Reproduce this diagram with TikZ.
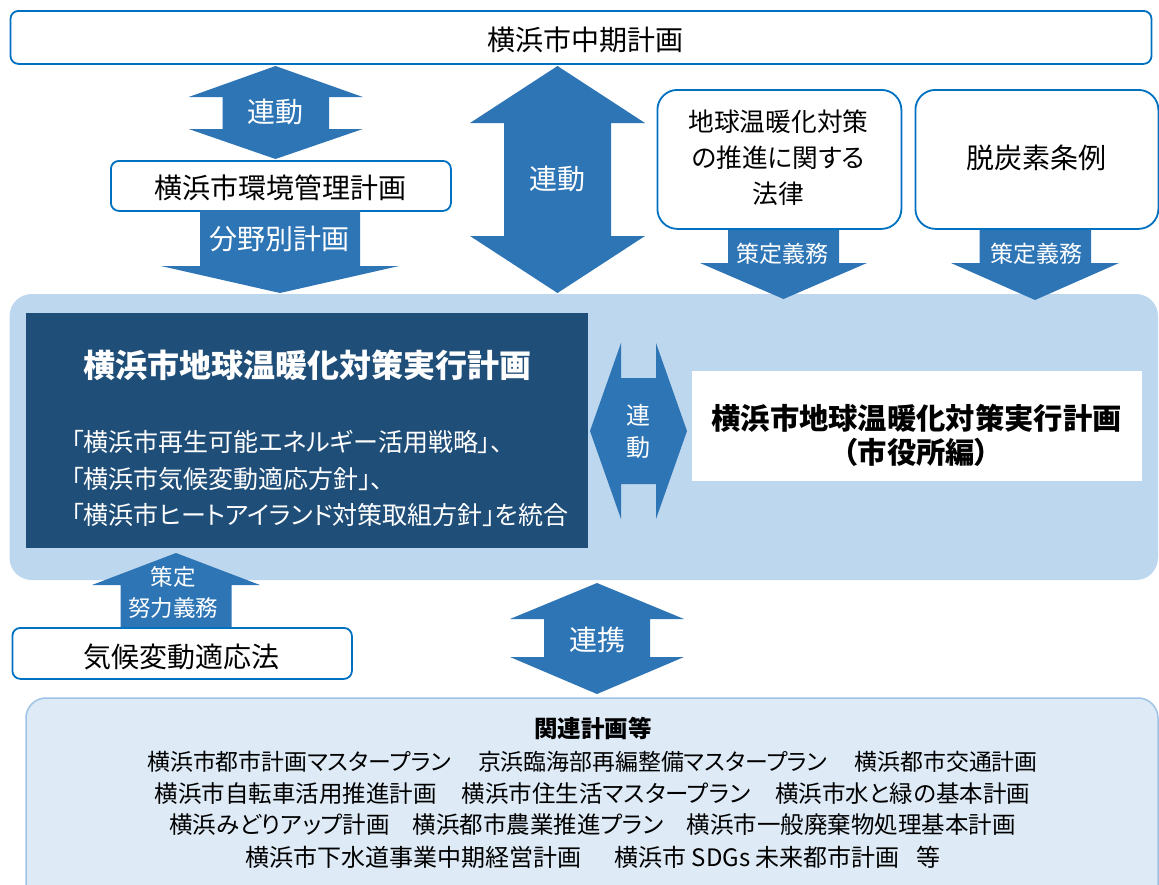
\documentclass[tikz,border=0pt]{standalone}
\usepackage{fontspec}
\setmainfont{Noto Sans CJK JP}[RawFeature=+palt]
\usepackage{xcolor}
\usetikzlibrary{positioning}

\definecolor{arrowblue}{HTML}{2E75B6}
\definecolor{lineblue}{HTML}{0070C0}
\definecolor{areablue}{HTML}{BDD7EE}
\definecolor{darkblue}{HTML}{1F4E79}
\definecolor{paleblue}{HTML}{DEEBF7}
\definecolor{paleline}{HTML}{9DC3E6}

\tikzset{
  planbox/.style={draw=lineblue, line width=1.8pt, fill=white, rounded corners=8pt, inner sep=0pt},
  lawbox/.style={planbox, rounded corners=20pt},
  blockarrow/.style={fill=arrowblue},
  arrowlabel/.style={text=white, inner sep=0pt, align=center},
  bigtext/.style={font=\fontsize{28}{32}\selectfont},
  midtext/.style={font=\fontsize{25.7}{36}\selectfont},
  smalltext/.style={font=\fontsize{23}{33}\selectfont},
  listline/.style={inner sep=0pt, font=\fontsize{#1}{#1}\selectfont},
}

\begin{document}
\begin{tikzpicture}[x=1pt,y=-1pt]
    \useasboundingbox (0,0) rectangle (1159,884);
    \clip (0,0) rectangle (1159,884);

    % Top plan
    \node[planbox, minimum width=1141, minimum height=53, anchor=north west] (chuki) at (9.6,10) {};
    \node[bigtext, inner sep=0pt] (chukitxt) at (585,40) {横浜市中期計画};

    % Environment plan
    \node[planbox, minimum width=340, minimum height=50, anchor=north west] (kankyo) at (110,160) {};
    \node[bigtext, inner sep=0pt] (kankyotxt) at (280,188) {横浜市環境管理計画};

    % Laws
    \node[lawbox, minimum width=244, minimum height=139, anchor=north west] (law) at (656.5,89) {};
    \node[midtext, inner sep=0pt, align=center] (lawtxt) at (778.5,157.5) {地球温暖化対策\\の推進に関する\\法律};
    \node[lawbox, minimum width=243, minimum height=139, anchor=north west] (jorei) at (914.5,89) {};
    \node[bigtext, inner sep=0pt] (joreitxt) at (1036,158) {脱炭素条例};

    % Main area
    \fill[areablue, rounded corners=22pt] (9.6,294) rectangle (1158,580);
    \node[fill=darkblue, minimum width=562, minimum height=235, anchor=north west, inner sep=0pt] (jikko) at (26,313) {};
    \node[text=white, font=\bfseries\fontsize{32}{36}\selectfont, inner sep=0pt] (jikkotitle) at (307,365) {横浜市地球温暖化対策実行計画};
    \node[text=white, font=\fontsize{25}{36.5}\selectfont, inner sep=0pt, align=left, anchor=west] (jikkobody) at (71,478.5)
        {「横浜市再生可能エネルギー活用戦略」、\\「横浜市気候変動適応方針」、\\「横浜市ヒートアイランド対策取組方針」を統合};
    \node[fill=white, minimum width=450, minimum height=110, anchor=north west, inner sep=0pt] (shiyakusho) at (692,371) {};
    \node[font=\bfseries\fontsize{29.3}{34}\selectfont, inner sep=0pt, align=center] (shiyakushotxt) at (916.5,435)
        {横浜市地球温暖化対策実行計画\\（市役所編）};

    % Climate adaptation law
    \node[planbox, minimum width=339.5, minimum height=51, anchor=north west] (tekio) at (11.5,627) {};
    \node[bigtext, inner sep=0pt] (tekiotxt) at (181.5,657) {気候変動適応法};

    % Related plans
    \fill[paleblue, draw=paleline, line width=1.5pt, rounded corners=20pt] (26,698) rectangle (1158,910);
    \node[font=\bfseries\fontsize{23.5}{28}\selectfont, inner sep=0pt] (kanren) at (593,728) {関連計画等};
    \node[listline=22.9] (list1) at (592.5,762)
        {横浜市都市計画マスタープラン\hspace{27pt}京浜臨海部再編整備マスタープラン\hspace{27pt}横浜都市交通計画};
    \node[listline=23.5] (list2) at (592.5,793.5)
        {横浜市自転車活用推進計画\hspace{25pt}横浜市住生活マスタープラン\hspace{25pt}横浜市水と緑の基本計画};
    \node[listline=23.5] (list3) at (592.5,825)
        {横浜みどりアップ計画\hspace{23pt}横浜都市農業推進プラン\hspace{23pt}横浜市一般廃棄物処理基本計画};
    \node[listline=24] (list4) at (593,857)
        {横浜市下水道事業中期経営計画\hspace{33pt}横浜市 SDGs 未来都市計画\hspace{17pt}等};

    % Block arrows
    \fill[blockarrow] (275.5,66) -- (362.8,97) -- (329,97) -- (329,129) -- (362.8,129) -- (275.5,159)
        -- (188.7,129) -- (222.7,129) -- (222.7,97) -- (188.7,97) -- cycle;
    \node[arrowlabel, bigtext] (rendo1) at (275.5,112) {連動};

    \fill[blockarrow] (200,210) -- (360,210) -- (360,266) -- (399,266) -- (280,293) -- (161,266) -- (200,266) -- cycle;
    \node[arrowlabel, bigtext] (bunya) at (279,238.5) {分野別計画};

    \fill[blockarrow] (557.5,66) -- (645,123) -- (611,123) -- (611,236) -- (645,236) -- (557.5,293)
        -- (470,236) -- (504,236) -- (504,123) -- (470,123) -- cycle;
    \node[arrowlabel, bigtext] (rendo2) at (557,178.5) {連動};

    \fill[blockarrow] (728,230) -- (839,230) -- (839,263) -- (867,263) -- (783.5,299) -- (700,263) -- (728,263) -- cycle;
    \node[arrowlabel, smalltext] (gimu1) at (782,254) {策定義務};
    \fill[blockarrow] (979.5,230) -- (1091,230) -- (1091,263) -- (1119,263) -- (1035,300) -- (951,263) -- (979.5,263) -- cycle;
    \node[arrowlabel, smalltext] (gimu2) at (1036,254) {策定義務};

    \fill[blockarrow] (621,343) -- (621,378) -- (656,378) -- (656,343) -- (687,431) -- (656,519)
        -- (656,484) -- (621,484) -- (621,519) -- (590,431) -- cycle;
    \node[arrowlabel, font=\fontsize{24}{32}\selectfont] (rendo3) at (638,431) {連\\動};

    \fill[blockarrow] (176,553) -- (260,585) -- (231.5,585) -- (231.5,627) -- (120.5,627) -- (120.5,585) -- (92,585) -- cycle;
    \node[arrowlabel, font=\fontsize{22.5}{31}\selectfont] (doryoku) at (173,592.5) {策定\\努力義務};

    \fill[blockarrow] (597,583) -- (684,619) -- (650,619) -- (650,657) -- (684,657) -- (597,694)
        -- (510,657) -- (544,657) -- (544,619) -- (510,619) -- cycle;
    \node[arrowlabel, bigtext] (renkei) at (597,640) {連携};
\end{tikzpicture}
\end{document}
